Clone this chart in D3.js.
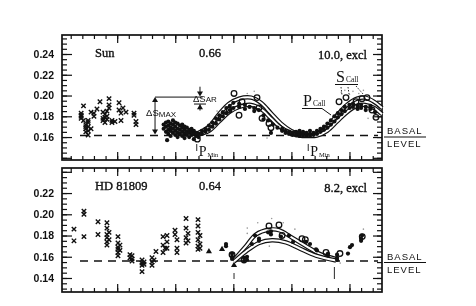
<!DOCTYPE html>
<html>
<head>
<meta charset="utf-8">
<script src="https://cdn.jsdelivr.net/npm/d3@7"></script>
<style>
  html, body { margin: 0; padding: 0; background: #fff; }
  svg { display: block; will-change: transform; }
</style>
</head>
<body>
<div id="chart"></div>
<script>
// ---- data (year, value...) ----
const years = [1965.25, 1992.8];
const majorYears = [1970, 1975, 1980, 1985, 1990];

const sunLabels = ['Sun', '0.66', '10.0, excl'];
const hdLabels = ['HD 81809', '0.64', '8.2, excl'];
const sunTicks = [0.16, 0.18, 0.20, 0.22, 0.24];
const hdTicks = [0.14, 0.16, 0.18, 0.20, 0.22];
const sunBasal = 0.1615;
const hdBasal = 0.156;
const sunMinima = [1976.85, 1986.45];
const hdMinima = [1980.06, 1988.7];

const sunCrosses = [
  [1966.9, 0.178, 0.181, 0.183, 0.180],
  [1967.1, 0.190, 0.176],
  [1967.3, 0.170, 0.165, 0.168, 0.172],
  [1967.5, 0.162, 0.166, 0.174, 0.176, 0.170],
  [1967.75, 0.184, 0.168],
  [1968.0, 0.183, 0.180],
  [1968.26, 0.187],
  [1968.52, 0.194],
  [1968.78, 0.184, 0.178, 0.176],
  [1968.95, 0.182, 0.179, 0.174],
  [1969.12, 0.185, 0.180, 0.177],
  [1969.3, 0.197, 0.191, 0.188],
  [1969.55, 0.176, 0.174],
  [1969.81, 0.175],
  [1970.16, 0.193, 0.186],
  [1970.33, 0.183, 0.176],
  [1970.5, 0.188],
  [1970.76, 0.184],
  [1971.45, 0.183, 0.181],
  [1971.62, 0.175, 0.172]
];
const sunDots = [
  [1974.0, 0.168, 0.172], [1974.2, 0.165, 0.170, 0.174], [1974.3, 0.157],
  [1974.4, 0.163, 0.167, 0.171, 0.175], [1974.6, 0.161, 0.166, 0.169, 0.173],
  [1974.8, 0.164, 0.168, 0.172, 0.176], [1975.0, 0.162, 0.166, 0.170, 0.174],
  [1975.2, 0.160, 0.164, 0.168, 0.173], [1975.4, 0.163, 0.167, 0.171],
  [1975.6, 0.161, 0.165, 0.169, 0.172], [1975.8, 0.159, 0.163, 0.167, 0.170],
  [1976.0, 0.162, 0.165, 0.169], [1976.2, 0.160, 0.164, 0.167],
  [1976.4, 0.162, 0.165, 0.168], [1976.6, 0.158, 0.163, 0.166],
  [1976.8, 0.161, 0.164], [1977.0, 0.160, 0.163],
  [1977.3, 0.163, 0.166], [1977.6, 0.165, 0.168], [1977.9, 0.167, 0.171],
  [1978.2, 0.170, 0.174], [1978.5, 0.173, 0.178], [1978.8, 0.177, 0.181],
  [1979.1, 0.180, 0.184], [1979.4, 0.183, 0.188], [1979.7, 0.186, 0.190],
  [1980.0, 0.188, 0.193], [1980.5, 0.189, 0.192], [1981.0, 0.187, 0.191],
  [1981.4, 0.189], [1981.8, 0.188, 0.185], [1982.2, 0.186],
  [1982.6, 0.181, 0.177], [1983.0, 0.176], [1983.24, 0.164], [1983.4, 0.172],
  [1983.8, 0.169], [1984.2, 0.166, 0.168], [1984.5, 0.164, 0.166],
  [1984.8, 0.163, 0.165], [1985.1, 0.162, 0.164], [1985.4, 0.1615, 0.163, 0.165],
  [1985.7, 0.161, 0.163, 0.166], [1986.0, 0.161, 0.163, 0.165],
  [1986.3, 0.161, 0.163, 0.164], [1986.6, 0.161, 0.163, 0.166],
  [1986.9, 0.162, 0.164], [1987.2, 0.163, 0.166], [1987.5, 0.165, 0.168],
  [1987.8, 0.167, 0.170], [1988.1, 0.169, 0.173], [1988.4, 0.172, 0.176],
  [1988.7, 0.175, 0.180], [1989.0, 0.179, 0.183], [1989.3, 0.182, 0.186],
  [1989.6, 0.185, 0.189], [1990.0, 0.188, 0.191], [1990.3, 0.189, 0.192],
  [1990.7, 0.190, 0.187], [1991.0, 0.188, 0.191], [1991.4, 0.189, 0.186],
  [1991.8, 0.187, 0.190], [1992.2, 0.184]
];
const sunCircles = [
  [1979.63, 0.186], [1980.06, 0.202], [1980.49, 0.181], [1980.75, 0.194],
  [1982.04, 0.198], [1982.21, 0.188], [1982.47, 0.178], [1983.07, 0.173],
  [1983.24, 0.169], [1976.9, 0.158], [1989.1, 0.194], [1989.7, 0.198],
  [1990.56, 0.194], [1991.08, 0.197], [1991.51, 0.198], [1991.94, 0.186],
  [1992.28, 0.179]
];
const sunFaint = [
  [1989.3, 0.203], [1989.6, 0.205], [1990.0, 0.201], [1990.3, 0.204],
  [1990.8, 0.202], [1991.2, 0.205], [1981.2, 0.202], [1981.8, 0.204],
  [1984.0, 0.172], [1982.9, 0.159], [1978.6, 0.185], [1991.6, 0.178]
];
const sunUpper = [
  [1976.8, 0.163], [1977.9, 0.170], [1978.77, 0.182], [1979.63, 0.192],
  [1980.49, 0.197], [1981.52, 0.198], [1982.38, 0.193], [1983.24, 0.183],
  [1984.1, 0.173], [1984.97, 0.166], [1985.66, 0.163], [1986.43, 0.1615],
  [1987.2, 0.163], [1988.07, 0.170], [1988.93, 0.181], [1989.79, 0.191],
  [1990.65, 0.197], [1991.34, 0.198], [1992.12, 0.194], [1992.8, 0.188]
];
const sunLower = [
  [1976.8, 0.162], [1977.9, 0.166], [1978.77, 0.175], [1979.63, 0.184],
  [1980.49, 0.189], [1981.52, 0.191], [1982.38, 0.187], [1983.24, 0.178],
  [1984.1, 0.169], [1984.97, 0.164], [1985.66, 0.1615], [1986.43, 0.161],
  [1987.2, 0.1615], [1988.07, 0.166], [1988.93, 0.175], [1989.79, 0.184],
  [1990.65, 0.190], [1991.34, 0.191], [1992.12, 0.188], [1992.8, 0.182]
];

const hdCrosses = [
  [1966.28, 0.186, 0.175],
  [1967.14, 0.203, 0.200, 0.179],
  [1968.35, 0.193, 0.181],
  [1969.12, 0.192, 0.187, 0.181, 0.178, 0.174, 0.171],
  [1969.3, 0.183, 0.176],
  [1970.07, 0.179, 0.173, 0.169, 0.167, 0.164, 0.161],
  [1970.24, 0.171, 0.166],
  [1971.1, 0.162, 0.159],
  [1971.28, 0.161, 0.158, 0.156],
  [1972.14, 0.157, 0.154, 0.152, 0.146],
  [1972.31, 0.155, 0.153],
  [1973.0, 0.159, 0.155, 0.152],
  [1973.17, 0.157],
  [1973.34, 0.165],
  [1973.95, 0.179, 0.171, 0.164],
  [1974.12, 0.168],
  [1974.29, 0.180, 0.174, 0.168],
  [1974.98, 0.185, 0.181],
  [1975.15, 0.176, 0.168, 0.164],
  [1975.93, 0.196, 0.187, 0.178, 0.173],
  [1976.1, 0.182, 0.175],
  [1976.96, 0.195, 0.189, 0.183, 0.176, 0.170, 0.167],
  [1977.13, 0.180, 0.172, 0.168]
];
const hdTriangles = [[1977.9, 0.165], [1979.03, 0.167], [1980.06, 0.152]];
const hdDots = [
  [1979.37, 0.172, 0.170], [1979.89, 0.163, 0.160, 0.158], [1980.92, 0.159, 0.156],
  [1981.18, 0.160, 0.157], [1981.6, 0.172], [1981.87, 0.180], [1982.21, 0.177, 0.175],
  [1982.99, 0.183], [1983.24, 0.181, 0.184], [1984.1, 0.179], [1984.79, 0.180],
  [1985.14, 0.174], [1986.26, 0.174], [1986.6, 0.172], [1987.12, 0.167],
  [1987.2, 0.166], [1988.15, 0.161, 0.163], [1988.93, 0.162, 0.159, 0.157],
  [1989.87, 0.163], [1990.04, 0.169], [1990.22, 0.171], [1991.0, 0.177, 0.175],
  [1991.08, 0.180]
];
const hdCircles = [
  [1979.89, 0.162], [1980.92, 0.157], [1983.07, 0.189], [1983.93, 0.190],
  [1984.2, 0.180], [1985.91, 0.177], [1986.2, 0.176], [1987.98, 0.164],
  [1989.18, 0.163], [1991.1, 0.179]
];
const hdFaint = [
  [1981.2, 0.187], [1981.2, 0.182], [1982.1, 0.192], [1983.3, 0.196],
  [1984.3, 0.192], [1985.3, 0.186], [1986.3, 0.167], [1987.4, 0.160],
  [1988.3, 0.157], [1989.2, 0.154], [1991.2, 0.186], [1983.1, 0.170]
];
const hdUpper = [
  [1980.06, 0.157], [1981.09, 0.170], [1981.95, 0.181], [1983.07, 0.1855],
  [1983.93, 0.185], [1985.05, 0.178], [1986.26, 0.170], [1987.38, 0.163],
  [1988.84, 0.158]
];
const hdLower = [
  [1980.06, 0.1555], [1981.09, 0.165], [1982.21, 0.173], [1983.33, 0.1755],
  [1984.54, 0.1735], [1985.66, 0.168], [1987.12, 0.161], [1988.84, 0.1565]
];

// annotation levels in the Sun panel
const sMaxTop = 0.1985;
const sMaxYear = 1973.26;
const sArYear = 1977.13;

// ---- layout ----
const W = 476, H = 306;
const X0 = 62, X1 = 382;
const serif = '"Liberation Serif", "DejaVu Serif", serif';
const sans = '"Liberation Sans", Arial, sans-serif';
const ink = '#111';

const expand = rows => rows.flatMap(([t, ...vs]) => vs.map(v => [t, v]));

const svg = d3.select('#chart').append('svg')
  .attr('width', W).attr('height', H)
  .attr('viewBox', `0 0 ${W} ${H}`);

const x = d3.scaleLinear().domain(years).range([X0, X1]);

function drawPanel(p) {
  const y = d3.scaleLinear().domain(p.yDomain).range([p.bottom, p.top]);
  const g = svg.append('g');

  // minor/major ticks, all pointing inward
  const minorY = d3.range(0.125, 0.26, 0.005).map(v => +v.toFixed(3))
    .filter(v => v > p.yDomain[0] && v < p.yDomain[1]);
  const majorY = d3.range(0.12, 0.27, 0.02).map(v => +v.toFixed(2))
    .filter(v => v > p.yDomain[0] && v < p.yDomain[1]);
  const minorX = d3.range(1966, 1993);

  const axes = [
    [d3.axisLeft(y).tickValues(minorY).tickSize(-5).tickFormat(''), X0, 0],
    [d3.axisLeft(y).tickValues(majorY).tickSize(-10).tickFormat(''), X0, 0],
    [d3.axisRight(y).tickValues(minorY).tickSize(-5).tickFormat(''), X1, 0],
    [d3.axisRight(y).tickValues(majorY).tickSize(-9).tickFormat(''), X1, 0],
    [d3.axisTop(x).tickValues(minorX).tickSize(-4).tickFormat(''), 0, p.top],
    [d3.axisTop(x).tickValues(majorYears).tickSize(-8).tickFormat(''), 0, p.top],
    [d3.axisBottom(x).tickValues(minorX).tickSize(-4).tickFormat(''), 0, p.bottom],
    [d3.axisBottom(x).tickValues(majorYears).tickSize(-8).tickFormat(''), 0, p.bottom]
  ];
  axes.forEach(([ax, tx, ty]) => {
    const a = g.append('g').attr('transform', `translate(${tx},${ty})`).call(ax);
    a.select('.domain').remove();
    a.selectAll('line').attr('stroke', ink).attr('stroke-width', 1.2);
  });

  // y labels
  const lab = g.append('g').attr('transform', `translate(${X0},0)`)
    .call(d3.axisLeft(y).tickValues(p.ticks).tickSize(0).tickPadding(8)
      .tickFormat(d3.format('.2f')));
  lab.select('.domain').remove();
  lab.selectAll('text')
    .attr('font-family', sans).attr('font-weight', 700)
    .attr('font-size', 10.5).attr('fill', ink);

  // frame
  g.append('rect')
    .attr('x', X0).attr('y', p.top)
    .attr('width', X1 - X0).attr('height', p.bottom - p.top)
    .attr('fill', 'none').attr('stroke', ink).attr('stroke-width', 1.7);

  // basal level
  g.append('line')
    .attr('x1', X0 + 18).attr('x2', X1 - 4)
    .attr('y1', y(p.basal)).attr('y2', y(p.basal))
    .attr('stroke', ink).attr('stroke-width', 1.6)
    .attr('stroke-dasharray', '8,6');
  g.append('line')
    .attr('x1', X1 + 2).attr('x2', X1 + 44)
    .attr('y1', y(p.basal) + 1.5).attr('y2', y(p.basal) + 1.5)
    .attr('stroke', ink).attr('stroke-width', 1.2);
  g.append('text').attr('x', X1 + 5).attr('y', y(p.basal) - 1)
    .attr('font-family', sans).attr('font-size', 9.5)
    .attr('letter-spacing', 1).attr('fill', ink).text('BASAL');
  g.append('text').attr('x', X1 + 5).attr('y', y(p.basal) + 12)
    .attr('font-family', sans).attr('font-size', 9.5)
    .attr('letter-spacing', 1).attr('fill', ink).text('LEVEL');

  // faint scatter
  g.append('g').selectAll('circle').data(p.faint).join('circle')
    .attr('cx', d => x(d[0])).attr('cy', d => y(d[1]))
    .attr('r', 0.8).attr('fill', '#999');

  // fitted curves: black outline with white core
  const line = d3.line().x(d => x(d[0])).y(d => y(d[1])).curve(d3.curveCatmullRom);
  [p.upper, p.lower].forEach(c => {
    g.append('path').attr('d', line(c)).attr('fill', 'none')
      .attr('stroke', ink).attr('stroke-width', 4.4);
    g.append('path').attr('d', line(c)).attr('fill', 'none')
      .attr('stroke', '#fff').attr('stroke-width', 2);
  });

  // crosses
  g.append('g').selectAll('path').data(expand(p.crosses)).join('path')
    .attr('transform', d => `translate(${x(d[0])},${y(d[1])})`)
    .attr('d', 'M-2.2,-2.2L2.2,2.2M-2.2,2.2L2.2,-2.2')
    .attr('stroke', ink).attr('stroke-width', 1.4).attr('fill', 'none');

  // filled points
  g.append('g').selectAll('circle').data(expand(p.dots)).join('circle')
    .attr('cx', d => x(d[0])).attr('cy', d => y(d[1]))
    .attr('r', 2.1).attr('fill', ink);

  // triangles
  g.append('g').selectAll('path').data(p.triangles).join('path')
    .attr('transform', d => `translate(${x(d[0])},${y(d[1])})`)
    .attr('d', d3.symbol(d3.symbolTriangle, 16))
    .attr('fill', ink);

  // open circles
  g.append('g').selectAll('circle').data(p.circles).join('circle')
    .attr('cx', d => x(d[0])).attr('cy', d => y(d[1]))
    .attr('r', 2.8).attr('fill', 'none')
    .attr('stroke', ink).attr('stroke-width', 1.3);

  // header labels
  const ty = p.top + 22;
  const head = (tx, txt, anchor) => g.append('text')
    .attr('x', tx).attr('y', ty).attr('text-anchor', anchor)
    .attr('font-family', serif).attr('font-size', 12.5)
    .attr('fill', ink).attr('stroke', ink).attr('stroke-width', 0.35)
    .text(txt);
  head(X0 + 33, p.labels[0], 'start');
  head(X0 + 137, p.labels[1], 'start');
  head(X1 - 15, p.labels[2], 'end').attr('y', ty + 2);

  return { g, y };
}

const sun = drawPanel({
  top: 35, bottom: 160, yDomain: [0.1379, 0.2583], ticks: sunTicks,
  basal: sunBasal, labels: sunLabels,
  crosses: sunCrosses, dots: sunDots, circles: sunCircles, triangles: [],
  faint: sunFaint, upper: sunUpper, lower: sunLower
});
const hd = drawPanel({
  top: 168, bottom: 292, yDomain: [0.1268, 0.2436], ticks: hdTicks,
  basal: hdBasal, labels: hdLabels,
  crosses: hdCrosses, dots: hdDots, circles: hdCircles, triangles: hdTriangles,
  faint: hdFaint, upper: hdUpper, lower: hdLower
});

// ---- annotations ----
function arrowHead(g, px, py, dir) {
  // dir: 1 = pointing down, -1 = pointing up
  g.append('path')
    .attr('d', `M${px - 3},${py - 5 * dir}L${px + 3},${py - 5 * dir}L${px},${py}Z`)
    .attr('fill', ink);
}
{
  const { g, y } = sun;
  const ax = x(sMaxYear);
  g.append('line').attr('x1', ax).attr('x2', x(1977.35))
    .attr('y1', y(sMaxTop)).attr('y2', y(sMaxTop))
    .attr('stroke', ink).attr('stroke-width', 1);
  g.append('line').attr('x1', ax).attr('x2', ax)
    .attr('y1', y(sMaxTop) + 4).attr('y2', y(sunBasal) - 4)
    .attr('stroke', ink).attr('stroke-width', 1);
  arrowHead(g, ax, y(sMaxTop), -1);
  arrowHead(g, ax, y(sunBasal) - 1, 1);
  g.append('text').attr('x', ax - 9).attr('y', y(0.1805))
    .attr('font-family', sans).attr('font-size', 9.5).attr('fill', ink)
    .call(t => {
      t.append('tspan').text('ΔS');
      t.append('tspan').attr('font-size', 8).attr('dy', 1).text('MAX');
    });

  const rx = x(sArYear);
  g.append('line').attr('x1', rx).attr('x2', rx)
    .attr('y1', y(0.2085)).attr('y2', y(sMaxTop) - 4)
    .attr('stroke', ink).attr('stroke-width', 1);
  arrowHead(g, rx, y(sMaxTop) - 0.5, 1);
  g.append('line').attr('x1', rx).attr('x2', rx)
    .attr('y1', y(0.1855)).attr('y2', y(0.1915))
    .attr('stroke', ink).attr('stroke-width', 1);
  arrowHead(g, rx, y(0.1915), -1);
  g.append('line').attr('x1', rx - 6).attr('x2', rx + 6)
    .attr('y1', y(0.1918)).attr('y2', y(0.1918))
    .attr('stroke', ink).attr('stroke-width', 1);
  g.append('text').attr('x', rx - 7).attr('y', y(0.1935))
    .attr('font-family', sans).attr('font-size', 9.5).attr('fill', ink)
    .call(t => {
      t.append('tspan').text('ΔS');
      t.append('tspan').attr('font-size', 8).text('AR');
    });

  // P_Min marks
  sunMinima.forEach(m => {
    const mx = x(m);
    g.append('line').attr('x1', mx).attr('x2', mx)
      .attr('y1', 144).attr('y2', 151).attr('stroke', ink).attr('stroke-width', 0.9);
    g.append('text').attr('x', mx + 2).attr('y', 156)
      .attr('font-family', serif).attr('font-size', 14).attr('fill', ink)
      .call(t => {
        t.append('tspan').text('P');
        t.append('tspan').attr('font-size', 6.5).attr('dx', 1).attr('dy', 1).text('Min');
      });
  });

  // S_Call
  g.append('text').attr('x', 336).attr('y', 82)
    .attr('font-family', serif).attr('font-size', 16).attr('fill', ink)
    .call(t => {
      t.append('tspan').text('S');
      t.append('tspan').attr('font-size', 7.5).attr('dx', 1).text('Call');
    });
  g.append('line').attr('x1', 335).attr('x2', 358).attr('y1', 84.5).attr('y2', 84.5)
    .attr('stroke', ink).attr('stroke-width', 1);
  g.append('path').attr('d', 'M341,87L342,95M348,87L349,94M356,86L363,94')
    .attr('stroke', ink).attr('stroke-width', 0.9).attr('stroke-dasharray', '1.5,1.5')
    .attr('fill', 'none');

  // P_Call
  g.append('text').attr('x', 303).attr('y', 106)
    .attr('font-family', serif).attr('font-size', 16).attr('fill', ink)
    .call(t => {
      t.append('tspan').text('P');
      t.append('tspan').attr('font-size', 7.5).attr('dx', 1).text('Call');
    });
  g.append('path').attr('d', 'M302,108.5L322,108.5L331,115')
    .attr('stroke', ink).attr('stroke-width', 1).attr('fill', 'none');
}
{
  const { g } = hd;
  hdMinima.forEach((m, i) => {
    const mx = x(m);
    g.append('line').attr('x1', mx).attr('x2', mx)
      .attr('y1', i ? 267 : 273).attr('y2', 279)
      .attr('stroke', ink).attr('stroke-width', 0.9);
  });
}
</script>
</body>
</html>
